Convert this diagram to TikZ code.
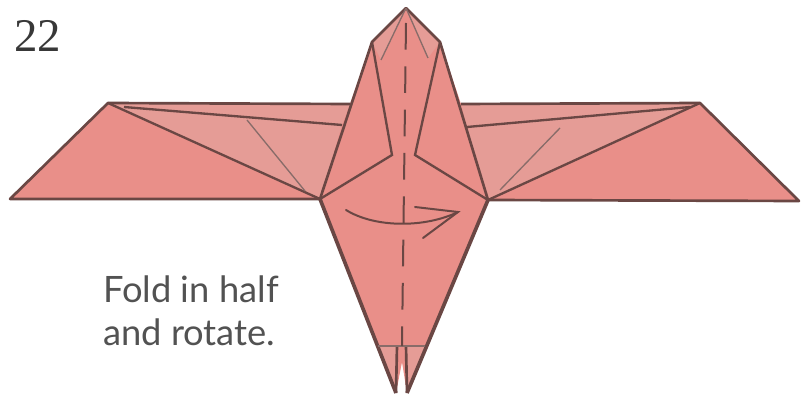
\documentclass[tikz,border=0pt]{standalone}
\usepackage{fontspec}
\setmainfont{Liberation Serif}
\newfontfamily\legenda{Lato}
\definecolor{papel}{HTML}{E98F89}
\definecolor{aba}{HTML}{E59C96}
\definecolor{vinco}{HTML}{6A4744}
\begin{document}
\begin{tikzpicture}[
        x=0.3mm, y=-0.3mm,
        borda/.style={draw=vinco, line width=0.8mm, line join=round},
        dobra/.style={draw=vinco, line width=0.7mm},
        fina/.style={draw=vinco!80, line width=0.4mm},
        vale/.style={draw=vinco, line width=0.6mm, dash pattern=on 8mm off 5mm},
        seta/.style={draw=vinco, line width=0.6mm, line cap=round},
        texto/.style={font=\legenda\fontsize{31}{36}\selectfont, text=black!68, align=left, inner sep=0pt}
    ]

        \useasboundingbox (0,0) rectangle (802,398);

        % ==================================================
        % PONTOS
        % ==================================================

        % Asa esquerda
        \coordinate (a1) at (10,199);
        \coordinate (a2) at (108,103);
        \coordinate (a3) at (350,104);
        \coordinate (a4) at (342,125);
        \coordinate (a5) at (124,107);
        \coordinate (a6) at (247,120);
        \coordinate (a7) at (305,191);

        % Asa direita
        \coordinate (b1) at (799,201);
        \coordinate (b2) at (700,103);
        \coordinate (b3) at (461,104);
        \coordinate (b4) at (467,127);
        \coordinate (b5) at (690,107);
        \coordinate (b6) at (560,128);
        \coordinate (b7) at (500,190);

        % Corpo
        \coordinate (topo) at (406,8);
        \coordinate (c1) at (372,42);
        \coordinate (c2) at (440,42);
        \coordinate (c3) at (320,199);
        \coordinate (c4) at (488,200);
        \coordinate (c5) at (392,155);
        \coordinate (c6) at (415,155);
        \coordinate (c7) at (381,60);
        \coordinate (c8) at (428,58);

        % Cauda
        \coordinate (d1) at (396,393);
        \coordinate (d2) at (407,393);
        \coordinate (d3) at (378,346);
        \coordinate (d4) at (425,346);
        \coordinate (d5) at (397,346);
        \coordinate (d6) at (406,346);
        \coordinate (d7) at (402,362);

        % Seta
        \coordinate (s1) at (346,210);
        \coordinate (s2) at (458,212);
        \coordinate (s3) at (415,207);
        \coordinate (s4) at (423,238);

        % Vinco central
        \coordinate (v1) at (406,23);
        \coordinate (v2) at (402,346);

        % ==================================================
        % PAPEL
        % ==================================================

        \fill[papel] (a1) -- (a2) -- (a3) -- (c1) -- (topo) -- (c2) -- (b3) -- (b2) -- (b1)
            -- (c4) -- (d2) -- (d7) -- (d1) -- (c3) -- cycle;
        \fill[aba] (a2) -- (a3) -- (a4) -- (c3) -- cycle;
        \fill[aba] (b2) -- (b3) -- (b4) -- (c4) -- cycle;
        \fill[aba] (c1) -- (topo) -- (c2) -- (c8) -- (topo) -- (c7) -- cycle;
        \fill[aba] (d3) -- (d5) -- (d1) -- cycle;
        \fill[aba] (d4) -- (d6) -- (d2) -- cycle;

        % ==================================================
        % CONTORNO E DOBRAS
        % ==================================================

        \draw[borda] (c3) -- (a1) -- (a2) -- (a3);
        \draw[borda] (c4) -- (b1) -- (b2) -- (b3);
        \draw[borda] (c3) -- (c1) -- (topo) -- (c2) -- (c4);
        \draw[borda, line width=1.1mm] (c3) -- (d1);
        \draw[borda, line width=1.1mm] (c4) -- (d2);
        \draw[borda] (d1) -- (d5);
        \draw[borda] (d2) -- (d6);

        \draw[dobra] (a2) -- (c3);
        \draw[dobra] (b2) -- (c4);
        \draw[dobra] (a5) -- (a4);
        \draw[dobra] (b5) -- (b4);
        \draw[dobra] (c1) -- (c5) -- (c3);
        \draw[dobra] (c2) -- (c6) -- (c4);
        \draw[fina] (d3) -- (d4);

        \draw[fina] (a6) -- (a7);
        \draw[fina] (b6) -- (b7);
        \draw[fina] (topo) -- (c7);
        \draw[fina] (topo) -- (c8);

        \draw[vale] (v1) -- (v2);

        % Seta
        \draw[seta] (s1) .. controls (375,228) and (425,228) .. (s2);
        \draw[seta] (s3) -- (s2) -- (s4);

        % ==================================================
        % TEXTOS
        % ==================================================

        \node[font=\fontsize{40}{40}\selectfont, text=black!78, anchor=base west, inner sep=0pt] (numero) at (14,52) {22};
        \node[texto, anchor=base west] (aviso) at (103,303) {Fold in half};
        \node[texto, anchor=base west] (aviso2) at (103,345) {and rotate.};

\end{tikzpicture}
\end{document}
